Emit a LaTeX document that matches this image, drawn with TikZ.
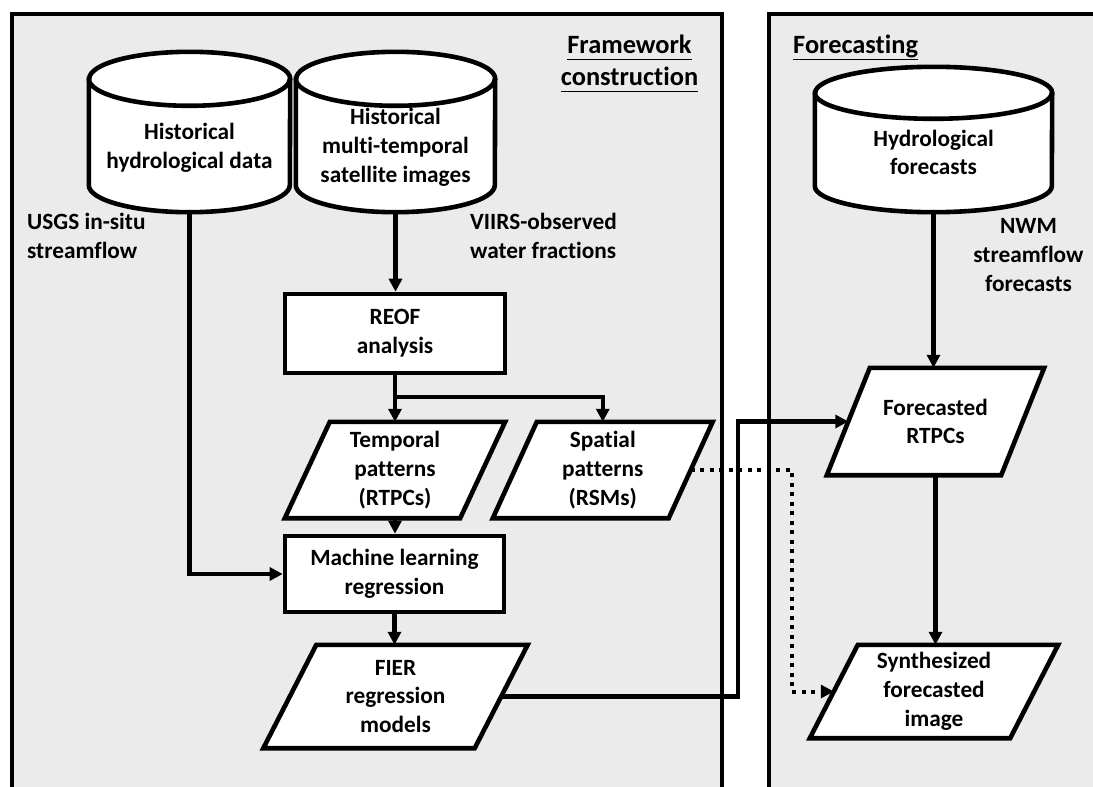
\documentclass[tikz,border=0pt]{standalone}
\usepackage{fontspec}
\setmainfont{Carlito}[Ligatures={NoCommon}]
\usetikzlibrary{arrows.meta}
\pgfdeclarelayer{panel}
\pgfdeclarelayer{bg}
\pgfsetlayers{panel,bg,main}
\newcommand\ulx[1]{\underline{#1\vphantom{g}}}
\newcommand\parafill[2]{%
  \path[shapeline] ([xshift=#2]#1.north west) -- ([xshift=#2]#1.north east) -- ([xshift=-#2]#1.south east) -- ([xshift=-#2]#1.south west) -- cycle;}
\newcommand\cylfill[3]{%
  \path[shapeline] ([yshift=-#3]#1.north west) -- ([yshift=#3]#1.south west)
    arc[start angle=180,end angle=360,x radius=#2,y radius=#3]
    -- ([yshift=-#3]#1.north east)
    arc[start angle=0,end angle=180,x radius=#2,y radius=#3] -- cycle;
  \path[draw=black, line width=4.6pt] ([yshift=-#3]#1.north west) arc[start angle=180,end angle=360,x radius=#2,y radius=#3];}
\tikzset{
  txt/.style={font=\fontsize{23.3}{28.8}\selectfont\bfseries, inner sep=0pt},
  head/.style={font=\fontsize{26.4}{32}\selectfont\bfseries, inner sep=0pt},
  shapeline/.style={draw=black, fill=white, line width=4.6pt},
  boxnode/.style={txt, draw, line width=4.6pt, fill=white, minimum width=#1, align=center},
  holder/.style={txt, align=center, minimum width=#1},
  panelline/.style={line width=3.8pt, draw=black},
  tipA/.tip={Triangle[length=13pt,width=13pt]},
  arr/.style={line width=4.4pt, -tipA},
  dotarr/.style={line width=4pt, dash pattern=on 4pt off 5.5pt, -tipA},
}
\begin{document}
\begin{tikzpicture}[x=1pt,y=1pt]
\useasboundingbox (0,0) rectangle (1093,-787);
% panels
\begin{pgfonlayer}{panel}
  \fill[black!8] (12,-14) rectangle (722,-787);
  \fill[black!8] (769,-14) rectangle (1093,-787);
  \draw[panelline] (12,-787) -- (12,-14) -- (722,-14) -- (722,-787);
  \draw[panelline] (769,-787) -- (769,-14) -- (1093,-14);
\end{pgfonlayer}
% headings
\node[head, align=center] (fw) at (629.5,-63) {\ulx{Framework}\\\ulx{construction}};
\node[head, anchor=west] (fc) at (793,-47) {\ulx{Forecasting}};
% cylinders
\node[holder=201pt, minimum height=160pt] (cyl1) at (189.5,-132) {};
\node[holder=199pt, minimum height=160pt] (cyl2) at (395.5,-132) {};
\node[holder=237pt, minimum height=145pt] (cyl3) at (933.5,-139.5) {};
\begin{pgfonlayer}{bg}
  \cylfill{cyl1}{100.5pt}{27pt}
  \cylfill{cyl2}{99.5pt}{27pt}
  \cylfill{cyl3}{118.5pt}{26pt}
\end{pgfonlayer}
\node[txt, align=center] (t1) at (189.5,-147.5) {Historical\\hydrological data};
\node[txt, align=center] (t2) at (395.5,-147) {Historical\\multi-temporal\\satellite images};
\node[txt, align=center] (t3) at (933.5,-152.5) {Hydrological\\forecasts};
% labels
\node[txt, anchor=west, align=left] (usgs) at (27,-236) {USGS in-situ\\streamflow};
\node[txt, anchor=west, align=left] (viirs) at (470,-236) {VIIRS-observed\\water fractions};
\node[txt, align=center] (nwm) at (1028.5,-255) {NWM\\streamflow\\forecasts};
% boxes
\node[boxnode=220pt, minimum height=79pt] (reof) at (395,-333.5) {REOF\\analysis};
\node[boxnode=219pt, minimum height=76pt] (ml) at (394.5,-574) {Machine learning\\regression};
% parallelograms
\node[holder=175pt, minimum height=96pt] (tp) at (395,-470) {Temporal\\patterns\\(RTPCs)};
\node[holder=175.5pt, minimum height=96pt] (sp) at (602.75,-470) {Spatial\\patterns\\(RSMs)};
\node[holder=211pt, minimum height=103pt] (fier) at (395.5,-696.5) {FIER\\regression\\models};
\node[holder=174pt, minimum height=107pt] (fr) at (935.5,-421.5) {Forecasted\\RTPCs};
\node[holder=200pt, minimum height=93pt] (syn) at (934,-691.5) {Synthesized\\forecasted\\image};
\begin{pgfonlayer}{bg}
  \parafill{tp}{22.5pt}
  \parafill{sp}{22pt}
  \parafill{fier}{26.5pt}
  \parafill{fr}{21.5pt}
  \parafill{syn}{24pt}
\end{pgfonlayer}
% connectors
\coordinate (br) at (395,-397);
\coordinate (fx) at (738,-421.5);
\coordinate (dx) at (792,-470);
\draw[arr] (cyl1.south) |- (ml.west);
\draw[arr] (cyl2.south) -- (cyl2.south |- reof.north);
\draw[arr] (reof.south) -- (reof.south |- tp.north);
\draw[arr] (br) -| (sp.north);
\draw[arr] (tp.south) -- (tp.south |- ml.north);
\draw[arr] (ml.south) -- (ml.south |- fier.north);
\draw[arr] (fier.east) -| (fx) -- (fr.west);
\draw[dotarr] (sp.east) -- (dx) |- (syn.west);
\draw[arr] (cyl3.south) -- (cyl3.south |- fr.north);
\draw[arr] (fr.south) -- (fr.south |- syn.north);
\end{tikzpicture}
\end{document}
